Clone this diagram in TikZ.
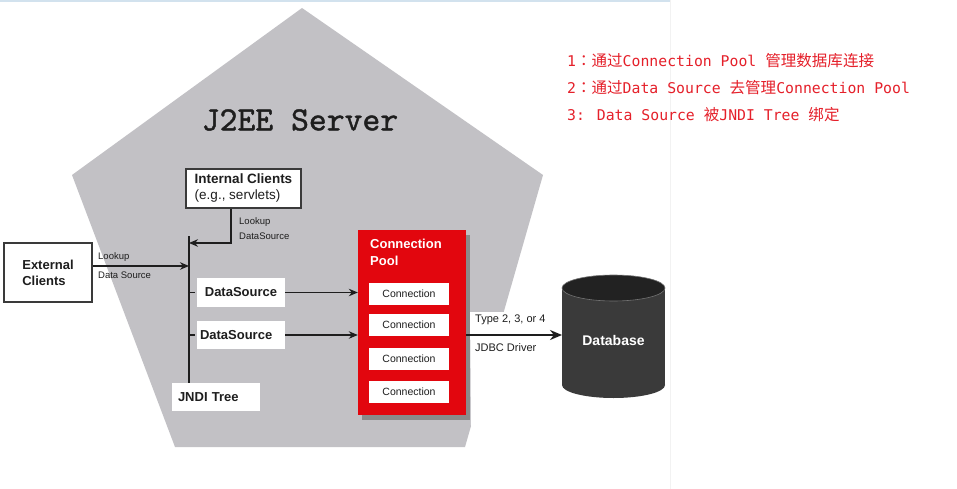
\documentclass[tikz,border=0pt]{standalone}
\usepackage{fontspec}
\setmainfont{Liberation Sans}
\newfontfamily\jfont[FakeBold=1.2]{lmmono10-regular.otf}
\newfontfamily\monofont{DejaVu Sans Mono}
\newfontfamily\cjkfont[Scale=1.05]{Noto Sans CJK SC}
\newfontfamily\cjktc[Scale=1.05]{Noto Sans CJK TC}
\usetikzlibrary{arrows.meta,shadows}
\definecolor{pent}{HTML}{C2C1C5}
\definecolor{poolred}{HTML}{E2060E}
\definecolor{shadowgray}{HTML}{8A8A8A}
\definecolor{boxborder}{HTML}{3A3A3A}
\definecolor{ink}{HTML}{1E1E1E}
\definecolor{notered}{HTML}{E5202A}
\definecolor{dbbody}{HTML}{3A3A3A}
\definecolor{dbtop}{HTML}{222222}
\definecolor{topbar}{HTML}{D2E2EE}
\newcommand{\myfs}[2]{\fontsize{#1}{#2}\selectfont}
\newcommand{\cj}[1]{{\cjkfont #1}}
\newcommand{\fwcolon}{{\cjktc ：}}
\begin{document}
\begin{tikzpicture}[x=1pt,y=-1pt,
  box/.style={draw=boxborder, line width=1.6pt, fill=white, inner sep=0pt},
  plainbox/.style={fill=white, inner sep=0pt, font=\bfseries\myfs{13}{16}, text=ink},
  conn/.style={fill=white, inner sep=0pt, minimum width=80, minimum height=22, font=\myfs{10.5}{12}, text=ink},
  lbl/.style={inner sep=0pt, font=\myfs{9.5}{11}, text=ink, anchor=west},
  tlbl/.style={inner sep=0pt, font=\myfs{11}{13}, text=ink, anchor=west},
  arr/.style={draw=ink, line width=1.2pt, -{Stealth[length=9pt,width=7.5pt]}},
  bigarr/.style={draw=ink, line width=2.2pt, -{Stealth[length=12pt,width=10pt]}},
  jline/.style={draw=ink, line width=1.6pt},
  tick/.style={draw=ink, line width=1.2pt},
  note/.style={anchor=west, inner sep=0pt, text=notered, font=\monofont\myfs{14.8}{16}}
]
\useasboundingbox (0,0) rectangle (957,489);
\fill[white] (0,0) rectangle (957,489);
\draw[topbar, line width=2pt] (0,1) -- (670,1);
\draw[black!5, line width=1pt] (670,0) -- (670,489);

% J2EE server pentagon
\fill[pent] (302,8) -- (543,175) -- (465,447) -- (175,447) -- (72,175) -- cycle;
\fill[white] (470,312) -- (560,312) -- (560,426) -- (471,426) -- cycle;
\node[font=\jfont\myfs{34}{36}, text=ink] (title) at (300,120) {J2EE Server};

% clients
\node[box, minimum width=115, minimum height=39, align=left, font=\myfs{13.5}{16}, text=ink] (ic) at (243.5,188.5) {\textbf{Internal Clients}\\(e.g., servlets)};
\node[box, minimum width=88, minimum height=59, align=left, font=\bfseries\myfs{13}{16}, text=ink] (ec) at (48,272.5) {External\\Clients};

% JNDI tree
\coordinate (jtop) at (189,236);
\coordinate (jbot) at (189,383);
\coordinate (jin) at (189,243);
\coordinate (jext) at (189,266);
\draw[jline] (jtop) -- (jbot);
\draw[arr] ([xshift=-12.5pt]ic.south) |- (jin);
\draw[arr] (ec.east |- jext) -- (jext);
\node[lbl] (lk1) at (98,257) {Lookup};
\node[lbl] (lk2) at (98,275) {Data Source};
\node[lbl] (lk3) at (239,222) {Lookup};
\node[lbl] (lk4) at (239,236) {DataSource};

\node[plainbox, minimum width=88, minimum height=29] (ds1) at (241,292.5) {DataSource};
\node[plainbox, minimum width=88, minimum height=28, text width=82, align=left] (ds2) at (241,335) {DataSource};
\node[plainbox, minimum width=88, minimum height=28, text width=76, align=left] (jn) at (216,397) {JNDI Tree};
\draw[tick] (ds1.west -| jtop) -- ([xshift=-2pt]ds1.west);
\draw[tick] (ds2.west -| jtop) -- ([xshift=-2pt]ds2.west);

% connection pool
\node[fill=poolred, minimum width=108, minimum height=185, inner sep=0pt,
  general shadow={fill=shadowgray, shadow xshift=4pt, shadow yshift=-5pt}] (pool) at (412,322.5) {};
\node[anchor=north west, inner sep=0pt, align=left, text=white, font=\bfseries\myfs{13}{17}] (pooltxt) at (370,239) {Connection\\Pool};
\node[conn] (c1) at (409,294) {Connection};
\node[conn] (c2) at (409,325) {Connection};
\node[conn] (c3) at (409,359) {Connection};
\node[conn] (c4) at (409,392) {Connection};
\draw[arr] (ds1.east) -- (ds1.east -| pool.west);
\draw[arr] (ds2.east) -- (ds2.east -| pool.west);

% database
\fill[dbbody] (562,288) rectangle (665,385);
\fill[dbbody] (613.5,385) ellipse [x radius=51.5, y radius=13];
\fill[dbtop, draw=black!55, line width=0.6pt] (613.5,288) ellipse [x radius=51.5, y radius=13];
\node[inner sep=0pt, text=white, font=\bfseries\myfs{14}{16}] (db) at (613.5,340) {Database};
\coordinate (dbin) at (562,335);
\draw[bigarr] (pool.east |- dbin) -- (dbin);
\node[tlbl] (t1) at (475,320) {Type 2, 3, or 4};
\node[tlbl] (t2) at (475,348) {JDBC Driver};

% notes
\node[note] (n1) at (567,61) {1\fwcolon\cj{通过}Connection Pool \cj{管理数据库连接}};
\node[note] (n2) at (567,88) {2\fwcolon\cj{通过}Data Source \cj{去管理}Connection Pool};
\node[note] (n3) at (567,115) {3: Data Source \cj{被}JNDI Tree \cj{绑定}};
\end{tikzpicture}
\end{document}
